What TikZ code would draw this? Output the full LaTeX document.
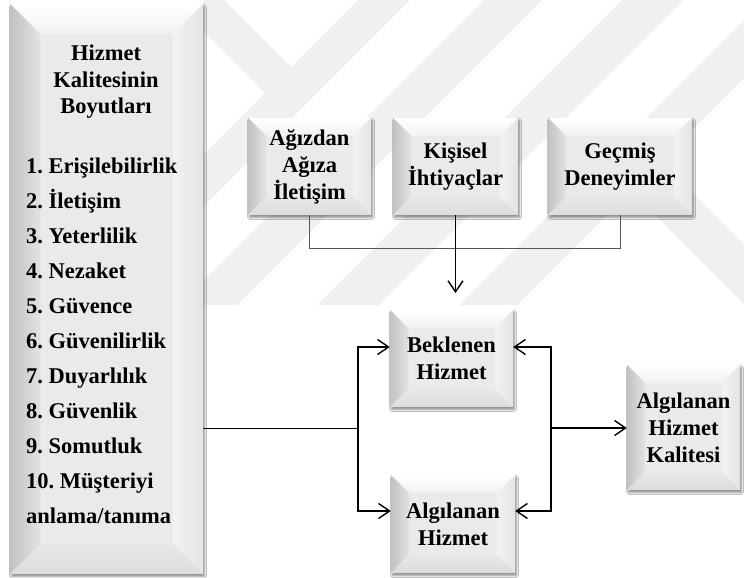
\documentclass[tikz,border=0pt]{standalone}
\usepackage{fontspec}
\setmainfont{Liberation Serif}[BoldFont={Liberation Serif Bold}]
\usetikzlibrary{arrows.meta,shadows.blur,calc}

% palette
\definecolor{wm}{HTML}{F0F0F0}
\definecolor{bevmid}{HTML}{EAEAEA}
\definecolor{bevtopin}{HTML}{F1F1F1}
\definecolor{bevrightin}{HTML}{F2F2F2}
\definecolor{bevrightout}{HTML}{E4E4E4}
\definecolor{bevbotin}{HTML}{E8E8E8}
\definecolor{bevbotout}{HTML}{DCDCDC}
\definecolor{bevleftout}{HTML}{C2C2C2}
\definecolor{bevleftin}{HTML}{E2E2E2}
\definecolor{thinln}{HTML}{555555}

\tikzset{
  bevelbox/.style={
    draw=none, fill=bevmid, inner sep=2pt, align=center,
    font=\bfseries\fontsize{22.5}{27}\selectfont,
    blur shadow={shadow xshift=1.5pt, shadow yshift=-2.5pt,
                 shadow blur steps=6, shadow opacity=45},
    path picture={
      \coordinate (bNW) at (path picture bounding box.north west);
      \coordinate (bNE) at (path picture bounding box.north east);
      \coordinate (bSW) at (path picture bounding box.south west);
      \coordinate (bSE) at (path picture bounding box.south east);
      % top facet
      \shade[top color=white, bottom color=bevtopin]
        (bNW) -- (bNE) -- ([xshift=-#1,yshift=-#1]bNE)
        -- ([xshift=#1,yshift=-#1]bNW) -- cycle;
      % left facet
      \shade[left color=bevleftout, right color=bevleftin]
        (bNW) -- ([xshift=#1,yshift=-#1]bNW)
        -- ([xshift=#1,yshift=#1]bSW) -- (bSW) -- cycle;
      % right facet
      \shade[left color=bevrightin, right color=bevrightout]
        (bNE) -- (bSE) -- ([xshift=-#1,yshift=#1]bSE)
        -- ([xshift=-#1,yshift=-#1]bNE) -- cycle;
      % bottom facet
      \shade[top color=bevbotin, bottom color=bevbotout]
        (bSW) -- ([xshift=#1,yshift=#1]bSW)
        -- ([xshift=-#1,yshift=#1]bSE) -- (bSE) -- cycle;
    }
  },
  txt/.style={inner sep=0pt, font=\bfseries\fontsize{22.5}{27}\selectfont},
  thinwire/.style={draw=thinln, line width=0.9pt},
  wire/.style={draw=black, line width=1.4pt},
  arrowwire/.style={wire, -{Straight Barb[length=11pt,width=15pt]}},
}

\begin{document}
\frenchspacing
\begin{tikzpicture}[x=1pt, y=-1pt]
  \useasboundingbox (0,0) rectangle (744,578);
  \fill[white] (0,0) rectangle (744,578);

  % faint watermark: diagonal strokes behind the chart
  \begin{scope}
    \clip (203,0) rectangle (744,305);
    % rising strokes, x+y between the two bounds
    \foreach \ca/\cb in {358/410, 484/542, 622/684, 764/822}{
      \fill[wm] (\ca,0) -- (\cb,0) -- ({\cb-305},305) -- ({\ca-305},305) -- cycle;
    }
    % falling stroke on the left, ending on the first rising stroke
    \fill[wm] (172,0) -- (224,0) -- (292,68) -- (266,94) -- cycle;
  \end{scope}
  \begin{scope}
    \clip (600,180) rectangle (744,355);
    % falling stroke on the right
    \fill[wm] (560,120) -- (620,120) -- (855,355) -- (795,355) -- cycle;
  \end{scope}

  % boxes
  \node[bevelbox=30pt, minimum width=193pt, minimum height=570pt] (dims) at (106.5,289) {};
  \node[bevelbox=18pt, minimum width=123pt, minimum height=97pt] (agiz) at (309.5,166.5) {Ağızdan\\Ağıza\\İletişim};
  \node[bevelbox=18pt, minimum width=125pt, minimum height=97pt] (kisi) at (455.5,166.5) {Kişisel\\İhtiyaçlar};
  \node[bevelbox=18pt, minimum width=144pt, minimum height=97pt] (gecm) at (620,166.5) {Geçmiş\\Deneyimler};
  \node[bevelbox=18pt, minimum width=123pt, minimum height=97pt] (bekl) at (451.5,358.5) {Beklenen\\Hizmet};
  \node[bevelbox=18pt, minimum width=124pt, minimum height=98pt] (algh) at (453,524) {Algılanan\\Hizmet};
  \node[bevelbox=18pt, minimum width=113pt, minimum height=125pt] (kal) at (683.5,427.5) {Algılanan\\Hizmet\\Kalitesi};

  % text of the dimensions box
  \node[txt, anchor=base] (ttl1) at (106,60) {Hizmet};
  \node[txt, anchor=base] (ttl2) at (106,87) {Kalitesinin};
  \node[txt, anchor=base] (ttl3) at (106,113) {Boyutları};
  \foreach \t [count=\i] in {{1. Erişilebilirlik},{2. İletişim},{3. Yeterlilik},
      {4. Nezaket},{5. Güvence},{6. Güvenilirlik},{7. Duyarlılık},{8. Güvenlik},
      {9. Somutluk},{10. Müşteriyi},{anlama/tanıma}}{
    \node[txt, anchor=base west] (item\i) at (26,{173+35*(\i-1)}) {\t};
  }

  % upper inputs joining into the expected service
  \coordinate (joinend) at (455.5,293);
  \draw[thinwire] (agiz.south) -- ++(0,33) -| (gecm.south);
  \draw[arrowwire] (kisi.south) -- (joinend);

  % left bus
  \coordinate (lbus) at (358,428);
  \draw[wire, line width=1pt] (dims.east |- lbus) -- (lbus);
  \draw[arrowwire] (lbus) |- ([yshift=11.5pt]bekl.west);
  \draw[arrowwire] (lbus) |- ([yshift=13pt]algh.west);

  % right bus
  \coordinate (rbus) at (551,428);
  \draw[arrowwire] (rbus) |- ([yshift=11.5pt]bekl.east);
  \draw[arrowwire] (rbus) |- ([yshift=13pt]algh.east);
  \draw[arrowwire] (rbus) -- (kal.west |- rbus);
\end{tikzpicture}
\end{document}
